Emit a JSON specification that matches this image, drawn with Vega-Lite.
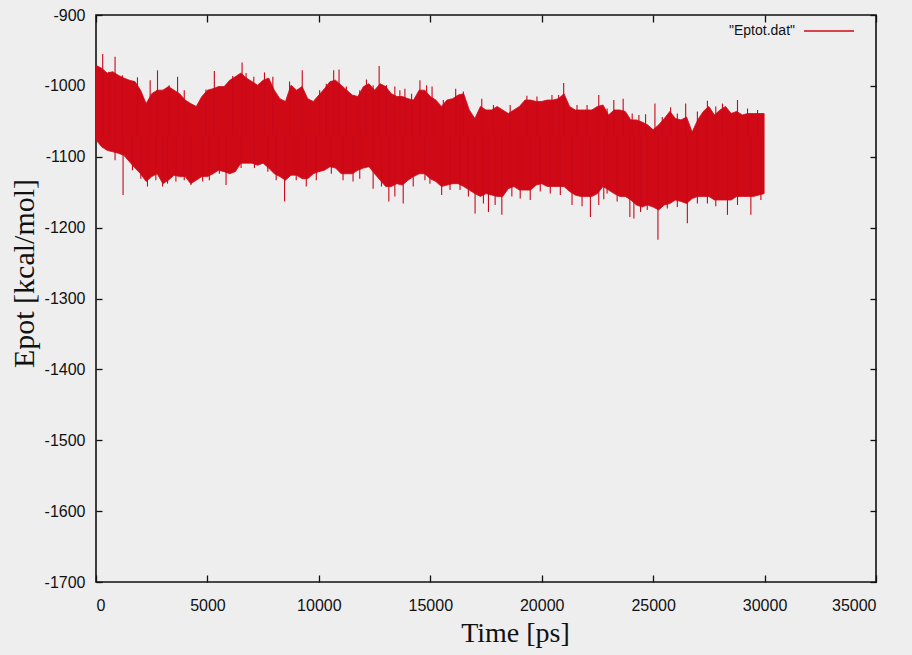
{
  "$schema": "https://vega.github.io/schema/vega-lite/v6.json",
  "width": 780,
  "height": 567,
  "autosize": {"type": "none"},
  "padding": {"left": 96, "top": 15, "right": 36, "bottom": 73},
  "background": "#eeeeef",
  "config": {
    "view": {"stroke": "#111111", "strokeWidth": 1.6},
    "axis": {
      "grid": false,
      "domain": false,
      "tickColor": "#111111",
      "tickWidth": 1.3,
      "labelFont": "Liberation Sans",
      "labelFontSize": 16,
      "labelColor": "#111111",
      "titleFont": "Liberation Serif",
      "titleFontWeight": "normal",
      "titleColor": "#111111"
    }
  },
  "datasets": {
    "band": [
      {"t": 0, "hi": -971, "lo": -1076}, {"t": 250, "hi": -975, "lo": -1086}, {"t": 500, "hi": -982, "lo": -1091}, {"t": 750, "hi": -980, "lo": -1093},
      {"t": 1000, "hi": -985, "lo": -1095}, {"t": 1250, "hi": -989, "lo": -1098}, {"t": 1500, "hi": -992, "lo": -1107}, {"t": 1750, "hi": -994, "lo": -1116},
      {"t": 2000, "hi": -1006, "lo": -1124}, {"t": 2250, "hi": -1025, "lo": -1135}, {"t": 2500, "hi": -1011, "lo": -1128}, {"t": 2750, "hi": -1006, "lo": -1124},
      {"t": 3000, "hi": -1006, "lo": -1138}, {"t": 3250, "hi": -1001, "lo": -1133}, {"t": 3500, "hi": -1006, "lo": -1126}, {"t": 3750, "hi": -1011, "lo": -1128},
      {"t": 4000, "hi": -1020, "lo": -1128}, {"t": 4250, "hi": -1025, "lo": -1138}, {"t": 4500, "hi": -1029, "lo": -1133}, {"t": 4750, "hi": -1015, "lo": -1128},
      {"t": 5000, "hi": -1006, "lo": -1128}, {"t": 5250, "hi": -1004, "lo": -1124}, {"t": 5500, "hi": -1001, "lo": -1119}, {"t": 5750, "hi": -1001, "lo": -1121},
      {"t": 6000, "hi": -992, "lo": -1124}, {"t": 6250, "hi": -987, "lo": -1121}, {"t": 6500, "hi": -982, "lo": -1109}, {"t": 6750, "hi": -989, "lo": -1109},
      {"t": 7000, "hi": -994, "lo": -1109}, {"t": 7250, "hi": -999, "lo": -1112}, {"t": 7500, "hi": -992, "lo": -1109}, {"t": 7750, "hi": -989, "lo": -1116},
      {"t": 8000, "hi": -1006, "lo": -1124}, {"t": 8250, "hi": -1018, "lo": -1128}, {"t": 8500, "hi": -1022, "lo": -1133}, {"t": 8750, "hi": -999, "lo": -1126},
      {"t": 9000, "hi": -1006, "lo": -1126}, {"t": 9250, "hi": -1001, "lo": -1131}, {"t": 9500, "hi": -1018, "lo": -1131}, {"t": 9750, "hi": -1022, "lo": -1124},
      {"t": 10000, "hi": -1013, "lo": -1121}, {"t": 10250, "hi": -1004, "lo": -1119}, {"t": 10500, "hi": -994, "lo": -1114}, {"t": 10750, "hi": -992, "lo": -1116},
      {"t": 11000, "hi": -999, "lo": -1124}, {"t": 11250, "hi": -1006, "lo": -1124}, {"t": 11500, "hi": -1013, "lo": -1124}, {"t": 11750, "hi": -1015, "lo": -1119},
      {"t": 12000, "hi": -1001, "lo": -1116}, {"t": 12250, "hi": -997, "lo": -1114}, {"t": 12500, "hi": -1006, "lo": -1124}, {"t": 12750, "hi": -997, "lo": -1133},
      {"t": 13000, "hi": -1001, "lo": -1142}, {"t": 13250, "hi": -1011, "lo": -1142}, {"t": 13500, "hi": -1015, "lo": -1138}, {"t": 13750, "hi": -1015, "lo": -1140},
      {"t": 14000, "hi": -1018, "lo": -1133}, {"t": 14250, "hi": -1020, "lo": -1128}, {"t": 14500, "hi": -1006, "lo": -1124}, {"t": 14750, "hi": -1006, "lo": -1124},
      {"t": 15000, "hi": -1015, "lo": -1131}, {"t": 15250, "hi": -1020, "lo": -1135}, {"t": 15500, "hi": -1029, "lo": -1142}, {"t": 15750, "hi": -1020, "lo": -1140},
      {"t": 16000, "hi": -1018, "lo": -1138}, {"t": 16250, "hi": -1013, "lo": -1138}, {"t": 16500, "hi": -1011, "lo": -1142}, {"t": 16750, "hi": -1034, "lo": -1147},
      {"t": 17000, "hi": -1046, "lo": -1152}, {"t": 17250, "hi": -1029, "lo": -1156}, {"t": 17500, "hi": -1034, "lo": -1152}, {"t": 17750, "hi": -1034, "lo": -1154},
      {"t": 18000, "hi": -1029, "lo": -1156}, {"t": 18250, "hi": -1034, "lo": -1156}, {"t": 18500, "hi": -1039, "lo": -1145}, {"t": 18750, "hi": -1034, "lo": -1142},
      {"t": 19000, "hi": -1029, "lo": -1147}, {"t": 19250, "hi": -1020, "lo": -1147}, {"t": 19500, "hi": -1020, "lo": -1147}, {"t": 19750, "hi": -1022, "lo": -1140},
      {"t": 20000, "hi": -1022, "lo": -1138}, {"t": 20250, "hi": -1020, "lo": -1142}, {"t": 20500, "hi": -1020, "lo": -1142}, {"t": 20750, "hi": -1018, "lo": -1142},
      {"t": 21000, "hi": -1011, "lo": -1142}, {"t": 21250, "hi": -1029, "lo": -1149}, {"t": 21500, "hi": -1034, "lo": -1154}, {"t": 21750, "hi": -1034, "lo": -1156},
      {"t": 22000, "hi": -1034, "lo": -1156}, {"t": 22250, "hi": -1034, "lo": -1156}, {"t": 22500, "hi": -1029, "lo": -1152}, {"t": 22750, "hi": -1027, "lo": -1142},
      {"t": 23000, "hi": -1041, "lo": -1147}, {"t": 23250, "hi": -1034, "lo": -1152}, {"t": 23500, "hi": -1034, "lo": -1156}, {"t": 23750, "hi": -1036, "lo": -1156},
      {"t": 24000, "hi": -1048, "lo": -1161}, {"t": 24250, "hi": -1048, "lo": -1168}, {"t": 24500, "hi": -1051, "lo": -1171}, {"t": 24750, "hi": -1055, "lo": -1168},
      {"t": 25000, "hi": -1062, "lo": -1171}, {"t": 25250, "hi": -1055, "lo": -1175}, {"t": 25500, "hi": -1046, "lo": -1168}, {"t": 25750, "hi": -1036, "lo": -1166},
      {"t": 26000, "hi": -1046, "lo": -1161}, {"t": 26250, "hi": -1048, "lo": -1163}, {"t": 26500, "hi": -1044, "lo": -1166}, {"t": 26750, "hi": -1065, "lo": -1159},
      {"t": 27000, "hi": -1048, "lo": -1156}, {"t": 27250, "hi": -1036, "lo": -1156}, {"t": 27500, "hi": -1029, "lo": -1156}, {"t": 27750, "hi": -1041, "lo": -1161},
      {"t": 28000, "hi": -1034, "lo": -1161}, {"t": 28250, "hi": -1029, "lo": -1161}, {"t": 28500, "hi": -1039, "lo": -1161}, {"t": 28750, "hi": -1036, "lo": -1156},
      {"t": 29000, "hi": -1041, "lo": -1156}, {"t": 29250, "hi": -1039, "lo": -1156}, {"t": 29500, "hi": -1039, "lo": -1156}, {"t": 29750, "hi": -1039, "lo": -1154},
      {"t": 29980, "hi": -1039, "lo": -1152}
    ],
    "spikes": [
      {"t": 300, "v": -955}, {"t": 855, "v": -959}, {"t": 2430, "v": -992}, {"t": 2760, "v": -978}, {"t": 3660, "v": -987},
      {"t": 5310, "v": -979}, {"t": 6555, "v": -967}, {"t": 7080, "v": -987}, {"t": 7560, "v": -981}, {"t": 7935, "v": -987},
      {"t": 9255, "v": -978}, {"t": 10665, "v": -978}, {"t": 10905, "v": -977}, {"t": 12135, "v": -991}, {"t": 12705, "v": -972},
      {"t": 13035, "v": -999}, {"t": 13410, "v": -1001}, {"t": 13860, "v": -1004}, {"t": 14535, "v": -992}, {"t": 15080, "v": -1001},
      {"t": 16140, "v": -1004}, {"t": 16485, "v": -1008}, {"t": 17310, "v": -1018}, {"t": 19335, "v": -1014}, {"t": 20985, "v": -996},
      {"t": 22560, "v": -1013}, {"t": 23235, "v": -1020}, {"t": 23655, "v": -1018}, {"t": 24660, "v": -1040}, {"t": 25080, "v": -1025},
      {"t": 25785, "v": -1030}, {"t": 26460, "v": -1025}, {"t": 27435, "v": -1021}, {"t": 28785, "v": -1020},
      {"t": 585, "v": -980}, {"t": 1185, "v": -985}, {"t": 1860, "v": -988}, {"t": 3285, "v": -999}, {"t": 3960, "v": -1006},
      {"t": 4935, "v": -1005}, {"t": 6135, "v": -986}, {"t": 6735, "v": -982}, {"t": 8685, "v": -994}, {"t": 10035, "v": -1006},
      {"t": 10335, "v": -997}, {"t": 11235, "v": -1001}, {"t": 11835, "v": -1006}, {"t": 12435, "v": -999}, {"t": 13635, "v": -1006},
      {"t": 14160, "v": -1011}, {"t": 14835, "v": -999}, {"t": 15585, "v": -1020}, {"t": 17835, "v": -1027}, {"t": 18585, "v": -1027},
      {"t": 19785, "v": -1015}, {"t": 20460, "v": -1013}, {"t": 20760, "v": -1013}, {"t": 21585, "v": -1027}, {"t": 22035, "v": -1027},
      {"t": 22935, "v": -1032}, {"t": 24060, "v": -1039}, {"t": 24360, "v": -1041}, {"t": 25410, "v": -1044}, {"t": 26085, "v": -1039},
      {"t": 26985, "v": -1036}, {"t": 27810, "v": -1029}, {"t": 28110, "v": -1025}, {"t": 29235, "v": -1032}, {"t": 29685, "v": -1034},
      {"t": 855, "v": -1105}, {"t": 1215, "v": -1154}, {"t": 2310, "v": -1142}, {"t": 2985, "v": -1142}, {"t": 3585, "v": -1135},
      {"t": 4260, "v": -1140}, {"t": 4785, "v": -1135}, {"t": 5835, "v": -1140}, {"t": 7710, "v": -1121}, {"t": 8085, "v": -1133},
      {"t": 8460, "v": -1163}, {"t": 9435, "v": -1142}, {"t": 11085, "v": -1133}, {"t": 11535, "v": -1135}, {"t": 12435, "v": -1145},
      {"t": 13140, "v": -1163}, {"t": 13410, "v": -1156}, {"t": 13785, "v": -1166}, {"t": 14985, "v": -1138}, {"t": 15510, "v": -1154},
      {"t": 16710, "v": -1156}, {"t": 17010, "v": -1180}, {"t": 17610, "v": -1178}, {"t": 18210, "v": -1182}, {"t": 19035, "v": -1159},
      {"t": 19485, "v": -1161}, {"t": 21360, "v": -1168}, {"t": 21810, "v": -1170}, {"t": 22185, "v": -1185}, {"t": 22560, "v": -1168},
      {"t": 22935, "v": -1152}, {"t": 23955, "v": -1185}, {"t": 24135, "v": -1187}, {"t": 24435, "v": -1178}, {"t": 25215, "v": -1217},
      {"t": 26535, "v": -1194}, {"t": 27810, "v": -1170}, {"t": 28335, "v": -1182}, {"t": 29385, "v": -1182},
      {"t": 1635, "v": -1119}, {"t": 2010, "v": -1131}, {"t": 2685, "v": -1133}, {"t": 3210, "v": -1138}, {"t": 3960, "v": -1133},
      {"t": 5085, "v": -1133}, {"t": 5535, "v": -1124}, {"t": 6510, "v": -1116}, {"t": 7110, "v": -1116}, {"t": 8985, "v": -1133},
      {"t": 9885, "v": -1133}, {"t": 10560, "v": -1124}, {"t": 11835, "v": -1131}, {"t": 12810, "v": -1142}, {"t": 14235, "v": -1142},
      {"t": 14760, "v": -1133}, {"t": 15885, "v": -1147}, {"t": 16335, "v": -1147}, {"t": 17385, "v": -1166}, {"t": 17910, "v": -1168},
      {"t": 18660, "v": -1156}, {"t": 19935, "v": -1149}, {"t": 20385, "v": -1152}, {"t": 20835, "v": -1154}, {"t": 22785, "v": -1160},
      {"t": 23385, "v": -1163}, {"t": 24735, "v": -1175}, {"t": 25635, "v": -1173}, {"t": 26085, "v": -1171}, {"t": 26985, "v": -1166},
      {"t": 27435, "v": -1166}, {"t": 28785, "v": -1168}, {"t": 29835, "v": -1161}
    ]
  },
  "layer": [
    {
      "data": {"name": "band"},
      "mark": {"type": "area", "stroke": "#cf0a16", "strokeWidth": 0.8, "opacity": 1},
      "encoding": {
        "x": {
          "field": "t", "type": "quantitative",
          "scale": {"domain": [0, 35000], "nice": false},
          "axis": {"title": "Time [ps]", "orient": "bottom", "values": [0, 5000, 10000, 15000, 20000, 25000, 30000, 35000], "labelExpr": "'' + datum.value", "offset": -7, "tickSize": 7, "labelPadding": 15, "titleFontSize": 28, "titleX": 419, "titleY": 58, "titleBaseline": "middle", "titleAlign": "center"}
        },
        "y": {
          "field": "hi", "type": "quantitative",
          "scale": {"domain": [-1700, -900], "nice": false, "zero": false},
          "axis": {"title": "Epot [kcal/mol]", "orient": "left", "values": [-1700, -1600, -1500, -1400, -1300, -1200, -1100, -1000, -900], "labelExpr": "'' + datum.value", "offset": -6, "tickSize": 6, "labelPadding": 11, "titleFontSize": 30, "titleAngle": -90, "titleX": -78, "titleY": 258, "titleBaseline": "middle", "titleAlign": "center"}
        },
        "y2": {"field": "lo"},
        "color": {
          "datum": "\"Eptot.dat\"",
          "type": "nominal",
          "scale": {"range": ["#cf0a16"]},
          "legend": {
            "title": null,
            "orient": "none",
            "legendX": 707,
            "legendY": -10,
            "symbolType": "stroke",
            "symbolSize": 2500,
            "symbolStrokeWidth": 1.5,
            "labelAlign": "right",
            "labelOffset": -60,
            "labelFont": "Liberation Sans",
            "labelFontSize": 14,
            "labelColor": "#111111"
          }
        }
      }
    },
    {
      "data": {"name": "spikes"},
      "mark": {"type": "rule", "color": "#c8081a", "strokeWidth": 1.1},
      "encoding": {
        "x": {"field": "t", "type": "quantitative", "axis": {"orient": "top", "title": null, "labels": false, "offset": -7, "tickSize": 7, "values": [0, 5000, 10000, 15000, 20000, 25000, 30000, 35000]}},
        "y": {"field": "v", "type": "quantitative", "axis": {"orient": "right", "title": null, "labels": false, "offset": -6, "tickSize": 6, "values": [-1700, -1600, -1500, -1400, -1300, -1200, -1100, -1000, -900]}},
        "y2": {"datum": -1070}
      }
    }
  ],
  "resolve": {"axis": {"x": "independent", "y": "independent"}}
}
